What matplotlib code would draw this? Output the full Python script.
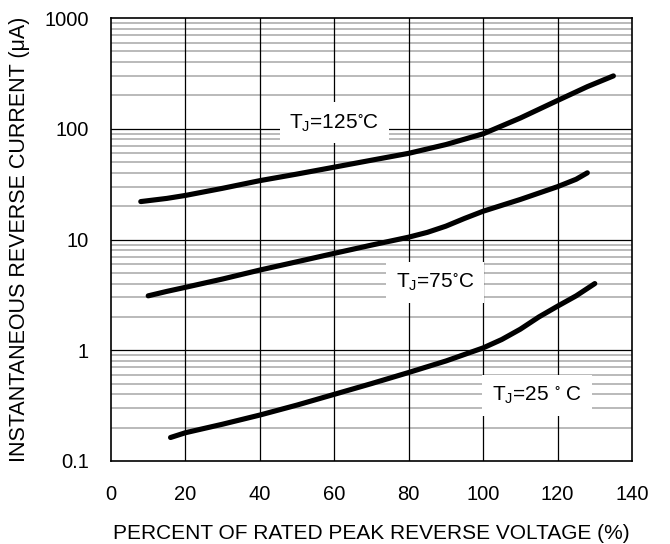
import matplotlib
matplotlib.use("Agg")
import matplotlib.pyplot as plt
from matplotlib.ticker import FixedLocator, NullFormatter

plt.rcParams["font.family"] = ["Liberation Sans", "DejaVu Sans"]
plt.rcParams["mathtext.fontset"] = "custom"
plt.rcParams["mathtext.rm"] = "Liberation Sans"
plt.rcParams["mathtext.default"] = "regular"

# ── data ─────────────────────────────────────────────────────────────
x_125 = [8, 15, 20, 30, 40, 50, 60, 70, 80, 90, 100, 110, 120, 128, 135]
y_125 = [22, 23.5, 25, 29, 34, 39, 45, 52, 60, 72, 90, 125, 180, 240, 300]

x_75 = [10, 15, 20, 30, 40, 50, 60, 70, 80, 85, 90, 95, 100, 110, 120, 125, 128]
y_75 = [3.1, 3.4, 3.7, 4.4, 5.3, 6.3, 7.5, 8.9, 10.5, 11.6, 13.2, 15.5, 18, 23, 30, 35, 40]

x_25 = [16, 20, 30, 40, 50, 60, 70, 80, 90, 100, 105, 110, 115, 120, 125, 130]
y_25 = [0.163, 0.18, 0.215, 0.26, 0.32, 0.4, 0.5, 0.63, 0.8, 1.05, 1.25, 1.55, 2.0, 2.5, 3.1, 4.0]

labels = [r"T$_J$=125$^{\circ}$C", r"T$_J$=75$^{\circ}$C", r"T$_J$=25 $^{\circ}$ C"]
label_pos = [(60, 113), (87, 4.1), (114.5, 0.39)]

xticks = [0, 20, 40, 60, 80, 100, 120, 140]
yticks = [0.1, 1, 10, 100, 1000]
ytick_labels = ["0.1", "1", "10", "100", "1000"]

fig = plt.figure(figsize=(6.7, 5.44), dpi=100)
ax = fig.add_axes([111 / 670, 1 - 461 / 544, (632 - 111) / 670, (461 - 18) / 544])

ax.set_yscale("log")
ax.set_xlim(0, 140)
ax.set_ylim(0.1, 1000)

# grid: grey minor decades, black majors and verticals
minors = [m * 10.0 ** e for e in range(-1, 3) for m in range(2, 10)]
for v in minors:
    ax.axhline(v, color="#b4b4b4", lw=1.3, zorder=1)
for v in yticks[1:-1]:
    ax.axhline(v, color="black", lw=0.9, zorder=1.5)
for v in xticks[1:-1]:
    ax.axvline(v, color="black", lw=0.9, zorder=1.5)

for xs, ys in [(x_125, y_125), (x_75, y_75), (x_25, y_25)]:
    ax.plot(xs, ys, color="black", lw=3.7, solid_capstyle="round",
            solid_joinstyle="round", zorder=4)

for txt, (lx, ly) in zip(labels, label_pos):
    ax.text(lx, ly, txt, ha="center", va="center", fontsize=15, zorder=3,
            bbox=dict(facecolor="white", edgecolor="none", pad=7))

ax.set_xticks(xticks)
ax.yaxis.set_major_locator(FixedLocator(yticks))
ax.set_yticklabels(ytick_labels)
ax.yaxis.set_minor_formatter(NullFormatter())
ax.tick_params(which="both", length=0, labelsize=14.5)
ax.tick_params(axis="x", pad=17)
ax.tick_params(axis="y", pad=16)
for s in ax.spines.values():
    s.set_linewidth(1.2)
    s.set_zorder(5)

ax.set_xlabel("PERCENT OF RATED PEAK REVERSE VOLTAGE (%)", fontsize=15, labelpad=15)
ax.set_ylabel("INSTANTANEOUS REVERSE CURRENT (\u03bcA)", fontsize=15.5, labelpad=10)

fig.savefig("out.png", dpi=100)
